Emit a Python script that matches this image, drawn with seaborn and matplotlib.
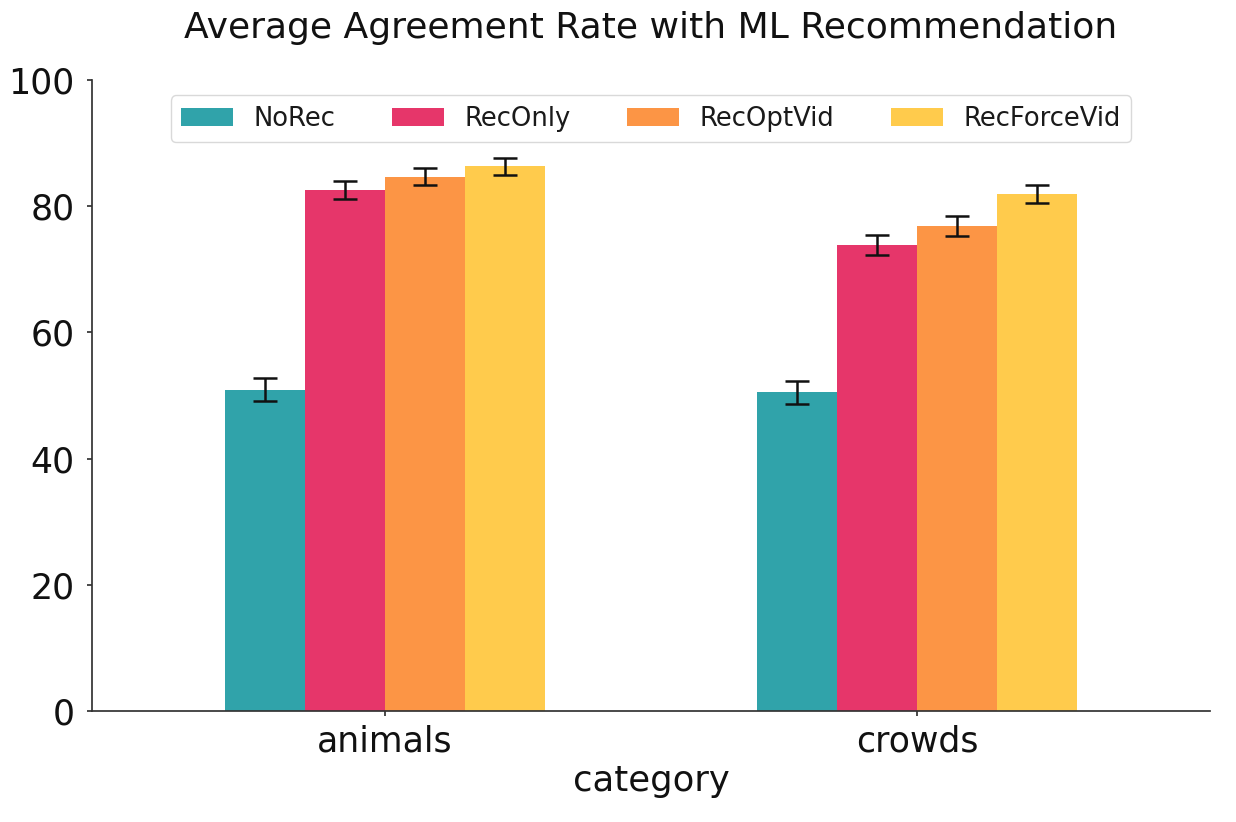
import numpy as np
import pandas as pd
import matplotlib
matplotlib.use("Agg")
import matplotlib.pyplot as plt
import seaborn as sns

# values
categories = ["animals", "crowds"]
conditions = ["NoRec", "RecOnly", "RecOptVid", "RecForceVid"]
animals_rate = [50.9, 82.6, 84.7, 86.3]
crowds_rate = [50.5, 73.9, 76.8, 81.9]
animals_err = [1.8, 1.4, 1.3, 1.3]
crowds_err = [1.8, 1.6, 1.6, 1.4]
palette = ["#30A3AA", "#E6366A", "#FC9545", "#FFCB4C"]

df = pd.DataFrame({
    "category": np.repeat(categories, len(conditions)),
    "condition": conditions * len(categories),
    "rate": animals_rate + crowds_rate,
    "err": animals_err + crowds_err,
})

sns.set_theme(style="ticks")
plt.rcParams['font.family'] = ['DejaVu Sans']

fig, ax = plt.subplots(figsize=(12.36, 8.22), dpi=100)
fig.subplots_adjust(left=0.0744, right=0.979, bottom=0.135, top=0.9027)

sns.barplot(data=df, x="category", y="rate", hue="condition",
            hue_order=conditions, palette=palette, width=0.6,
            errorbar=None, saturation=1, ax=ax, linewidth=0)

# error bars at the bar centres seaborn computed
for cont, cond in zip(ax.containers, conditions):
    sub = df[df["condition"] == cond].set_index("category").loc[categories]
    xs = [p.get_x() + p.get_width() / 2 for p in cont.patches]
    ax.errorbar(xs, sub["rate"], yerr=sub["err"], fmt="none",
                ecolor="#111111", elinewidth=1.8, capsize=8.5, capthick=1.8)

ax.set_ylim(0, 100)
ax.set_yticks([0, 20, 40, 60, 80, 100])
ax.set_xlim(-0.55, 1.55)
ax.tick_params(labelsize=25, colors="#333333", labelcolor="#111111", length=3.5)
ax.tick_params(axis="y", pad=9)
ax.tick_params(axis="x", pad=6)
ax.set_xlabel("category", fontsize=25.5, color="#111111", labelpad=4)
ax.set_ylabel("")
ax.set_title("Average Agreement Rate with ML Recommendation",
             fontsize=26, color="#111111", pad=30)
for s in ["left", "bottom"]:
    ax.spines[s].set_color("#333333")
sns.despine(ax=ax)

leg = ax.legend(loc="upper center", ncol=4, fontsize=18.6, frameon=True,
                columnspacing=2.2, borderaxespad=0.6)
leg.get_frame().set_edgecolor("#d0d0d0")
for t in leg.get_texts():
    t.set_color("#1a1a1a")

fig.savefig("out.png", dpi=100)
